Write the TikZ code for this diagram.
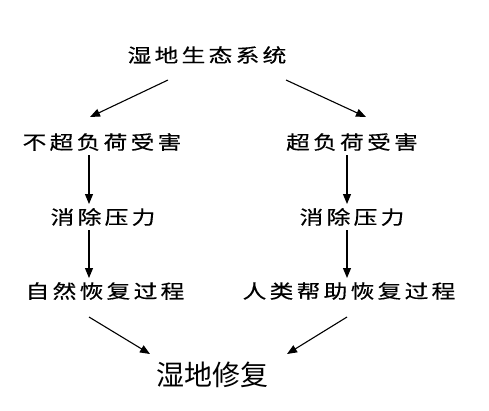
\documentclass[tikz,border=0pt]{standalone}
\usepackage{fontspec}
\setmainfont{Noto Sans CJK SC}
\newfontfamily\hei[FakeBold=0.4]{Noto Sans CJK SC}
\usetikzlibrary{arrows.meta}
\newcommand\gp{\hspace{2.6pt}}
\newcommand\wide[1]{\scalebox{1.25}[1]{#1}}
\begin{document}
\begin{tikzpicture}[x=1pt,y=-1pt,
  lbl/.style={inner sep=0pt,font=\hei\fontsize{19}{21}\selectfont},
  big/.style={inner sep=0pt,font=\fontsize{28}{30}\selectfont},
  arr/.style={line width=1.1pt,-{Triangle[length=10pt,width=8pt]}}]
\useasboundingbox (0,0) rectangle (489,410);
\node[lbl] (top) at (207,55) {\wide{湿\gp 地\gp 生\gp 态\gp 系\gp 统}};
\node[lbl] (l1) at (102,142) {\wide{不\gp 超\gp 负\gp 荷\gp 受\gp 害}};
\node[lbl] (r1) at (352,142) {\wide{超\gp 负\gp 荷\gp 受\gp 害}};
\node[lbl] (l2) at (103,217) {\wide{消\gp 除\gp 压\gp 力}};
\node[lbl] (r2) at (352,217) {\wide{消\gp 除\gp 压\gp 力}};
\node[lbl] (l3) at (105,291) {\wide{自\gp 然\gp 恢\gp 复\gp 过\gp 程}};
\node[lbl] (r3) at (349,291) {\wide{人\gp 类\gp 帮\gp 助\gp 恢\gp 复\gp 过\gp 程}};
\node[big] (bot) at (212,375) {湿地修复};
% connector ends
\coordinate (ta) at (168,80);  \coordinate (tb) at (90,117);
\coordinate (tc) at (286,80);  \coordinate (td) at (366,117);
\coordinate (la) at (89,155);  \coordinate (lb) at (89,204);
\coordinate (ra) at (347,155); \coordinate (rb) at (347,204);
\coordinate (lc) at (89,230);  \coordinate (ld) at (89,278);
\coordinate (rc) at (347,230); \coordinate (rd) at (347,278);
\coordinate (le) at (89,317);  \coordinate (lf) at (150,354);
\coordinate (re) at (347,317); \coordinate (rf) at (287,354);
\draw[arr] (ta) -- (tb);
\draw[arr] (tc) -- (td);
\draw[arr] (la) -- (lb);
\draw[arr] (ra) -- (rb);
\draw[arr] (lc) -- (ld);
\draw[arr] (rc) -- (rd);
\draw[arr] (le) -- (lf);
\draw[arr] (re) -- (rf);
\end{tikzpicture}
\end{document}
